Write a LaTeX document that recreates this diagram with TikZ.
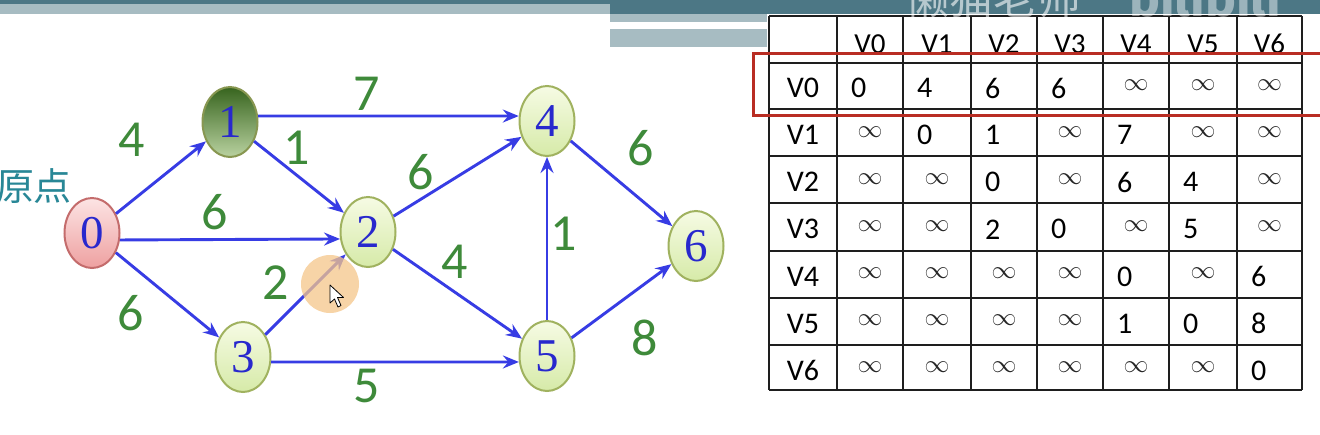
\documentclass[tikz,border=0pt]{standalone}
\usepackage{fontspec}
\setmainfont{Liberation Serif}
\newfontfamily\calfont{Carlito}
\newfontfamily\cjkfont{Noto Sans CJK SC}
\newfontfamily\bilifont{Fira Sans}
\usetikzlibrary{shapes.geometric,arrows.meta}
\definecolor{edgeblue}{RGB}{55,60,228}
\definecolor{lblgreen}{RGB}{62,138,58}
\definecolor{digitblue}{RGB}{40,40,205}
\definecolor{bandDark}{RGB}{76,119,133}
\definecolor{bandLight}{RGB}{167,188,194}
\definecolor{origincol}{RGB}{40,135,150}
\definecolor{boxred}{RGB}{185,45,35}
\definecolor{gtop}{RGB}{246,251,228}
\definecolor{gbot}{RGB}{214,234,168}
\definecolor{gborder}{RGB}{160,178,95}
\definecolor{dtop}{RGB}{55,100,30}
\definecolor{dbot}{RGB}{185,210,160}
\definecolor{ptop}{RGB}{252,228,228}
\definecolor{pbot}{RGB}{238,160,160}
\definecolor{pborder}{RGB}{196,108,108}
\definecolor{hilite}{RGB}{245,198,138}
\definecolor{tblline}{RGB}{30,30,30}
\tikzset{
  vert/.style={ellipse, minimum width=55pt, minimum height=70pt, inner sep=0pt,
    draw=gborder, line width=2pt, top color=gtop, bottom color=gbot,
    text=digitblue, font=\fontsize{47}{47}\selectfont},
  vdark/.style={vert, top color=dtop, bottom color=dbot, draw=gborder!85!black},
  vpink/.style={vert, top color=ptop, bottom color=pbot, draw=pborder},
  arc/.style={draw=edgeblue, line width=2.9pt,
    -{Stealth[length=16pt,width=13pt,inset=5.5pt]}},
  lbl/.style={font=\calfont\fontsize{52}{52}\selectfont, text=lblgreen, inner sep=0pt},
  tbl/.style={draw=tblline, line width=1.6pt},
  cell/.style={font=\calfont\fontsize{30}{30}\selectfont, text=black, inner sep=0pt},
  hcell/.style={font=\calfont\fontsize{29}{29}\selectfont, text=black, inner sep=0pt},
  infcell/.style={font=\fontsize{26}{26}\selectfont, text=black!85, inner sep=0pt}
}
\begin{document}
\begin{tikzpicture}[x=1pt,y=-1pt]
\useasboundingbox (0,0) rectangle (1320,434);
\fill[white] (0,0) rectangle (1320,434);
% banner
\fill[bandDark] (0,0) rectangle (1320,4);
\fill[bandDark] (610,0) rectangle (1320,14);
\fill[bandLight] (0,4) rectangle (610,14);
\fill[bandLight] (610,14) rectangle (767,22);
\fill[bandLight] (610,29) rectangle (767,47);

% table
\fill[white] (769,16) rectangle (1302,390);
\foreach \x in {769,837,903,971,1037,1103,1169,1237,1302}
  \draw[tbl] (\x,16) -- (\x,390);
\foreach \y in {16,63,109,156,203,251,298,345,390}
  \draw[tbl] (769,\y) -- (1302,\y);
\def\colL{{837,903,971,1037,1103,1169,1237,1302}}
\foreach \h [count=\ci from 0] in {V0,V1,V2,V3,V4,V5,V6}{
  \pgfmathsetmacro\xl{\colL[\ci]}
  \pgfmathsetmacro\xr{\colL[\ci+1]}
  \node[hcell] (h\ci) at ({(\xl+\xr)/2},44) {\h};
}
\foreach \vals [count=\ri from 0] in {{0,4,6,6,i,i,i},{i,0,1,i,7,i,i},{i,i,0,i,6,4,i},{i,i,2,0,i,5,i},{i,i,i,i,0,i,6},{i,i,i,i,1,0,8},{i,i,i,i,i,i,0}}{
  \pgfmathsetmacro\yc{63+47.1*\ri+25}
  \node[cell] (r\ri) at (803,\yc) {V\ri};
  \foreach \v [count=\ci from 0] in \vals {
    \pgfmathsetmacro\xl{\colL[\ci]}
    \pgfmathsetmacro\xr{\colL[\ci+1]}
    \if\v i
      \node[infcell] (c\ri-\ci) at ({(\xl+\xr)/2},\yc-3) {$\infty$};
    \else
      \node[cell, anchor=west] (c\ri-\ci) at (\xl+14,\yc) {\v};
    \fi
  }
}
% red highlight box
\draw[boxred, line width=3pt] (753,53) rectangle (1345,115);

% watermark
\node[font=\cjkfont\fontsize{44}{44}\selectfont, text=white, opacity=0.6] (wm) at (993,-2) {懒猫老师};
\node[font=\bilifont\bfseries\fontsize{52}{52}\selectfont, text=white, opacity=0.45] (bili) at (1205,-4) {bilibili};

% graph vertices
\node[vpink] (n0) at (92,233) {0};
\node[vdark] (n1) at (230,122) {1};
\node[vert] (n2) at (368,232) {2};
\node[vert] (n3) at (243,357) {3};
\node[vert] (n4) at (547,121) {4};
\node[vert] (n5) at (547,356) {5};
\node[vert] (n6) at (696,246) {6};

% edges
\draw[arc] (n0) -- (n1);
\draw[arc] (n0.-14) -- (n2.194);
\draw[arc] (n0) -- (n3);
\draw[arc] (n1.12) -- (n4.170);
\draw[arc] (n1) -- (n2);
\draw[arc] (n2) -- (n4);
\draw[arc] (n2) -- (n5);
\draw[arc] (n3) -- (n2);
\draw[arc] (n3.-10) -- (n5.192);
\draw[arc] (n5) -- (n4);
\draw[arc] (n4) -- (n6);
\draw[arc] (n5) -- (n6);

% edge weights
\node[lbl] (w01) at (132,140) {4};
\node[lbl] (w14) at (367,94) {7};
\node[lbl] (w12) at (297,148) {1};
\node[lbl] (w02) at (215,212) {6};
\node[lbl] (w24) at (421,172) {6};
\node[lbl] (w32) at (276,283) {2};
\node[lbl] (w25) at (455,262) {4};
\node[lbl] (w54) at (564,234) {1};
\node[lbl] (w46) at (641,148) {6};
\node[lbl] (w56) at (645,338) {8};
\node[lbl] (w03) at (131,313) {6};
\node[lbl] (w35) at (367,386) {5};

% source label
\node[font=\cjkfont\fontsize{38}{38}\selectfont, text=origincol, inner sep=0pt] (origin) at (34,186) {原点};

% highlight circle and cursor
\fill[hilite, opacity=0.75] (330,284) circle (29);
\draw[black, line width=0.8pt, fill=white, line join=round]
  (330,285) -- (330,303) -- (334.5,299) -- (338,307) -- (341,305.5) -- (337.5,297.5) -- (343.5,297.5) -- cycle;
\end{tikzpicture}
\end{document}
